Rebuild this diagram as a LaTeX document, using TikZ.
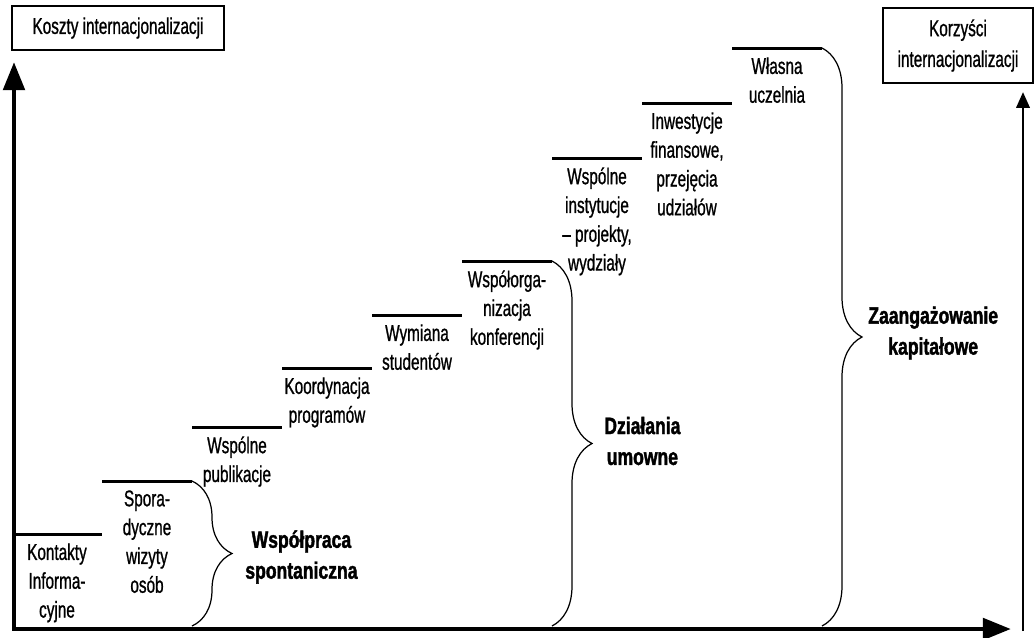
\documentclass[tikz,border=0pt]{standalone}
\usepackage{fontspec}
\setmainfont[FakeStretch=0.67,FakeBold=0.9]{Liberation Sans}
\newfontfamily\grpfont[FakeStretch=0.74,FakeBold=1.6]{Liberation Sans}
\usetikzlibrary{arrows.meta,decorations.pathreplacing}

\begin{document}
\begin{tikzpicture}[x=0.02cm, y=-0.02cm,
        axis/.style={line width=2.8pt, line join=miter},
        bigtip/.tip={Triangle[length=16pt,width=12pt]},
        stepline/.style={line width=1.7pt},
        steptext/.style={anchor=north, align=center, inner sep=0pt, font=\fontsize{13}{16.4}\selectfont},
        grpbrace/.style={decorate, decoration={brace, amplitude=0.8cm}, line width=0.7pt},
        grplabel/.style={anchor=west, align=center, inner sep=0pt, font=\grpfont\bfseries\fontsize{13.5}{17.6}\selectfont},
        axisbox/.style={draw, line width=0.8pt, align=center, inner sep=0pt, font=\fontsize{13}{17.5}\selectfont}]
        \useasboundingbox (0,0) rectangle (1034,637);
        % axes
        \coordinate (ytip) at (14,62);
        \coordinate (xtip) at (1011,629);
        \draw[axis, bigtip-bigtip] (ytip) |- (xtip);
        \coordinate (r0) at (1023,631);
        \coordinate (rtip) at (1023,92);
        \draw[line width=1.6pt, -{Triangle[length=9pt,width=7.5pt]}] (r0) -- (rtip);
        \node[axisbox, minimum width=4.24cm, minimum height=0.88cm] (costs) at (118,28) {Koszty internacjonalizacji};
        \node[axisbox, minimum width=3.0cm, minimum height=1.5cm] (benefits) at (958,45.5) {Korzyści\\internacjonalizacji};
        % stairs
        \foreach \i/\y/\txt [evaluate=\i as \xa using 12+90*(\i-1)] in {
            1/534/{Kontakty\\Informa-\\cyjne},
            2/481/{Spora-\\dyczne\\wizyty\\osób},
            3/427/{Wspólne\\publikacje},
            4/368/{Koordynacja\\programów},
            5/315/{Wymiana\\studentów},
            6/261/{Współorga-\\nizacja\\konferencji},
            7/158/{Wspólne\\instytucje\\– projekty,\\wydziały},
            8/103/{Inwestycje\\finansowe,\\przejęcia\\udziałów},
            9/48/{Własna\\uczelnia}} {
            \coordinate (a\i) at (\xa,\y);
            \coordinate (b\i) at (\xa+90,\y);
            \draw[stepline] (a\i) -- (b\i);
            \node[steptext] (t\i) at (\xa+45,\y+9) {\txt};
        }
        % braces
        \coordinate (c1) at (192,626);
        \coordinate (c2) at (552,626);
        \coordinate (c3) at (822,626);
        \draw[grpbrace] (b2) -- (c1);
        \draw[grpbrace] (b6) -- (c2);
        \draw[grpbrace] (b9) -- (c3);
        \node[grplabel] (g1) at (245,557) {Współpraca\\spontaniczna};
        \node[grplabel] (g2) at (604,441) {Działania\\umowne};
        \node[grplabel] (g3) at (868,333) {Zaangażowanie\\kapitałowe};
    \end{tikzpicture}
\end{document}
